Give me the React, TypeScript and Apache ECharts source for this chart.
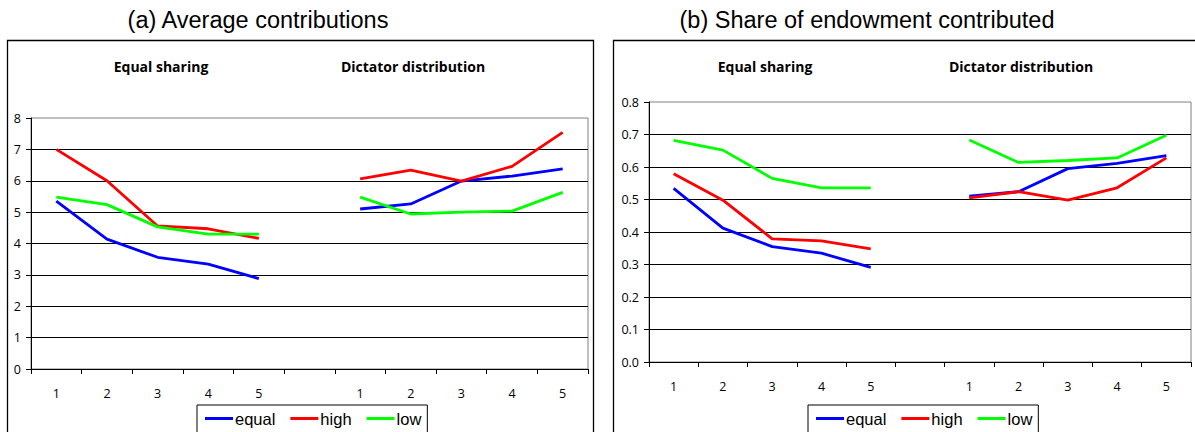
import React, { useEffect, useRef } from "react";
import * as echarts from "echarts";

const tickLabels = ["1", "2", "3", "4", "5", "", "1", "2", "3", "4", "5"];
const seriesNames = ["equal", "high", "low"];
const seriesColors = ["#0000ff", "#ff0000", "#00ff00"];

const contribEqual = [5.35, 4.14, 3.56, 3.34, 2.88, null, 5.1, 5.26, 5.99, 6.15, 6.38];
const contribHigh = [7.0, 6.0, 4.56, 4.47, 4.16, null, 6.06, 6.34, 5.99, 6.46, 7.54];
const contribLow = [5.48, 5.24, 4.53, 4.3, 4.3, null, 5.48, 4.94, 5.0, 5.03, 5.63];

const shareEqual = [0.534, 0.412, 0.355, 0.335, 0.291, null, 0.51, 0.524, 0.595, 0.611, 0.635];
const shareHigh = [0.579, 0.498, 0.379, 0.373, 0.348, null, 0.505, 0.524, 0.498, 0.536, 0.628];
const shareLow = [0.682, 0.652, 0.565, 0.536, 0.536, null, 0.683, 0.614, 0.62, 0.628, 0.698];

const panelTitles = ["(a) Average contributions", "(b) Share of endowment contributed"];
const groupLabels = ["Equal sharing", "Dictator distribution"];

export default function App() {
  const ref = useRef<HTMLDivElement>(null);

  useEffect(() => {
    if (!ref.current) return;
    const chart = echarts.init(ref.current, undefined, { renderer: "svg" });

    const tickFont = { fontFamily: "Open Sans", fontSize: 12.5, color: "#000" };

    const xAxisBase = (gridIndex: number) => ({
      type: "category" as const,
      gridIndex,
      data: tickLabels,
      boundaryGap: true,
      axisLine: { lineStyle: { color: "#000", width: 1 } },
      axisTick: { show: true, interval: 0, length: 5, lineStyle: { color: "#000" } },
      axisLabel: { ...tickFont, interval: 0, margin: 18 },
      splitLine: { show: false },
    });

    const yAxisBase = (gridIndex: number, max: number, interval: number, dec: number) => ({
      type: "value" as const,
      gridIndex,
      min: 0,
      max,
      interval,
      axisLine: { show: true, lineStyle: { color: "#000", width: 1 } },
      axisTick: { show: true, length: 5, lineStyle: { color: "#000" } },
      axisLabel: { ...tickFont, margin: 10, formatter: (v: number) => v.toFixed(dec) },
      splitLine: { show: true, showMinLine: false, showMaxLine: false, lineStyle: { color: "#000", width: 1 } },
    });

    const mk = (name: string, data: (number | null)[], idx: number, color: string) => ({
      name,
      type: "line" as const,
      xAxisIndex: idx,
      yAxisIndex: idx,
      data,
      symbol: "none",
      connectNulls: false,
      lineStyle: { color, width: 2.8 },
      itemStyle: { color },
    });

    const legendBase = (left: number) => ({
      left,
      top: 405,
      orient: "horizontal" as const,
      data: seriesNames,
      icon: "rect",
      itemWidth: 28,
      itemHeight: 3,
      itemGap: 15,
      padding: [5, 6, 10, 8],
      borderColor: "#000",
      borderWidth: 1,
      backgroundColor: "#fff",
      textStyle: { fontFamily: "Liberation Sans", fontSize: 16.5, color: "#000", padding: [0, 0, 0, -3] },
      selectedMode: false,
    });

    const boldText = (text: string, x: number) => ({
      type: "text" as const,
      x,
      y: 66,
      style: {
        text,
        fontFamily: "Open Sans",
        fontWeight: "bold",
        fontSize: 14,
        fill: "#000",
        textAlign: "center",
        textVerticalAlign: "middle",
      },
    });

    const option = {
      animation: false,
      backgroundColor: "#fff",
      grid: [
        { left: 31, top: 118, width: 557, height: 251, show: true, borderColor: "#808080", borderWidth: 1, backgroundColor: "transparent" },
        { left: 649, top: 102, width: 542, height: 260, show: true, borderColor: "#808080", borderWidth: 1, backgroundColor: "transparent" },
      ],
      xAxis: [xAxisBase(0), xAxisBase(1)],
      yAxis: [yAxisBase(0, 8, 1, 0), yAxisBase(1, 0.8, 0.1, 1)],
      legend: [legendBase(197), legendBase(808)],
      series: [
        mk(seriesNames[0], contribEqual, 0, seriesColors[0]),
        mk(seriesNames[1], contribHigh, 0, seriesColors[1]),
        mk(seriesNames[2], contribLow, 0, seriesColors[2]),
        mk(seriesNames[0], shareEqual, 1, seriesColors[0]),
        mk(seriesNames[1], shareHigh, 1, seriesColors[1]),
        mk(seriesNames[2], shareLow, 1, seriesColors[2]),
      ],
      graphic: [
        {
          type: "rect",
          shape: { x: 7.5, y: 40.5, width: 586, height: 420 },
          style: { fill: "none", stroke: "#000", lineWidth: 1.3 },
          z: -10,
        },
        {
          type: "rect",
          shape: { x: 613.5, y: 40.5, width: 620, height: 420 },
          style: { fill: "none", stroke: "#000", lineWidth: 1.3 },
          z: -10,
        },
        {
          type: "text",
          x: 258,
          y: 20,
          style: {
            text: panelTitles[0],
            fontFamily: "Liberation Sans",
            fontSize: 23.5,
            fill: "#000",
            textAlign: "center",
            textVerticalAlign: "middle",
          },
        },
        {
          type: "text",
          x: 867,
          y: 20,
          style: {
            text: panelTitles[1],
            fontFamily: "Liberation Sans",
            fontSize: 23.5,
            fill: "#000",
            textAlign: "center",
            textVerticalAlign: "middle",
          },
        },
        boldText(groupLabels[0], 161),
        boldText(groupLabels[1], 413),
        boldText(groupLabels[0], 765),
        boldText(groupLabels[1], 1021),
      ],
    };

    chart.setOption(option as any);
    return () => chart.dispose();
  }, []);

  return (
    <div
      ref={ref}
      style={{ position: "fixed", left: 0, top: 0, width: 1195, height: 432, background: "#fff" }}
    />
  );
}
